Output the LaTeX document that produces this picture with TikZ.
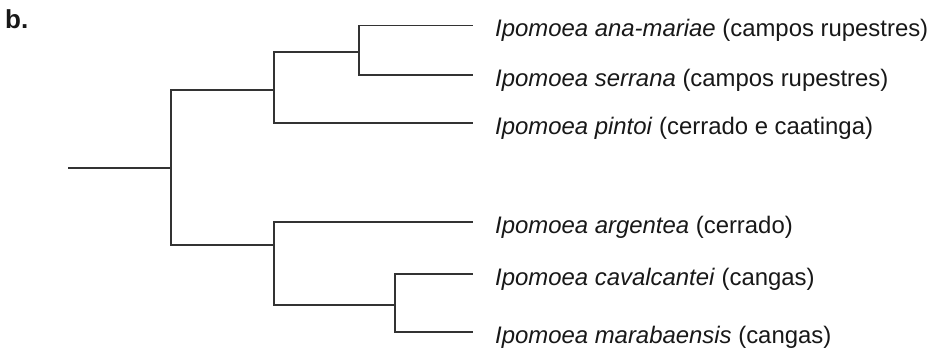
\documentclass[tikz,border=0pt]{standalone}
\usepackage{fontspec}
\setmainfont{Liberation Sans}
\definecolor{branchcol}{HTML}{333333}
\definecolor{textcol}{HTML}{181818}
\tikzset{
  branch/.style={draw=branchcol, line width=1.5pt},
  taxon/.style={anchor=base west, inner sep=0pt, text=textcol,
    font=\fontsize{23.9}{28}\selectfont, xshift=22pt, yshift=-11pt},
  panel/.style={anchor=base west, inner sep=0pt, text=textcol,
    font=\fontsize{26}{30}\selectfont\bfseries}
}
\begin{document}
\begin{tikzpicture}[x=1pt, y=-1pt]
  \useasboundingbox[fill=white] (0,0) rectangle (930,349);

  % panel letter
  \node[panel] (lbl) at (5,28.5) {b.};

  % internal nodes of the tree
  \coordinate (base)  at (68,168);
  \coordinate (root)  at (171,168);
  \coordinate (cladeA) at (274,90);
  \coordinate (cladeC) at (359,52);
  \coordinate (cladeB) at (274,245);
  \coordinate (cladeD) at (395,305);

  % branch tips
  \coordinate (t1) at (473,25.5);
  \coordinate (t2) at (473,75);
  \coordinate (t3) at (473,123);
  \coordinate (t4) at (473,222);
  \coordinate (t5) at (473,274);
  \coordinate (t6) at (473,332);

  % branches
  \draw[branch] (base) -- (root);
  \draw[branch] (root) |- (cladeA);
  \draw[branch] (root) |- (cladeB);
  \draw[branch] (cladeA) |- (cladeC);
  \draw[branch] (cladeA) |- (t3);
  \draw[branch] (cladeC) |- (t1);
  \draw[branch] (cladeC) |- (t2);
  \draw[branch] (cladeB) |- (t4);
  \draw[branch] (cladeB) |- (cladeD);
  \draw[branch] (cladeD) |- (t5);
  \draw[branch] (cladeD) |- (t6);

  % taxon labels
  \node[taxon] (s1) at (t1) {\textit{Ipomoea ana-mariae} (campos rupestres)};
  \node[taxon] (s2) at (t2) {\textit{Ipomoea serrana} (campos rupestres)};
  \node[taxon] (s3) at (t3) {\textit{Ipomoea pintoi} (cerrado e caatinga)};
  \node[taxon] (s4) at (t4) {\textit{Ipomoea argentea} (cerrado)};
  \node[taxon] (s5) at (t5) {\textit{Ipomoea cavalcantei} (cangas)};
  \node[taxon] (s6) at (t6) {\textit{Ipomoea marabaensis} (cangas)};
\end{tikzpicture}
\end{document}
